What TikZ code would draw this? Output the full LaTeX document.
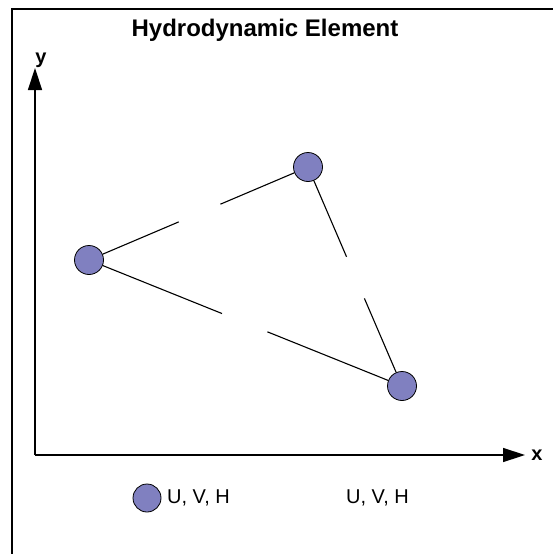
\documentclass[tikz,border=0pt]{standalone}
\usepackage{fontspec}
\setmainfont{Liberation Sans}
\definecolor{elemblue}{RGB}{128,128,192}
\usetikzlibrary{arrows.meta,calc}

\begin{document}
\begin{tikzpicture}[x=1pt,y=-1pt,
    elem/.style={draw,fill=elemblue,circle,minimum size=29pt,inner sep=0pt,line width=0.8pt},
    axis/.style={line width=1.4pt,-{Triangle[length=22pt,width=14pt]}}]
  \useasboundingbox (0,0) rectangle (552,554);
  \draw[line width=1.4pt] (12,570) -- (12,9) -- (570,9);
  \node[font=\fontsize{24}{28}\selectfont\bfseries] (title) at (265,30) {Hydrodynamic Element};
  % axes
  \coordinate (o) at (35,455);
  \coordinate (ytip) at (35,68);
  \coordinate (xtip) at (525,455);
  \draw[axis] (o) -- (ytip);
  \draw[axis] (o) -- (xtip);
  \node[font=\fontsize{20}{22}\selectfont\bfseries] (ylab) at (41,60) {y};
  \node[font=\fontsize{20}{22}\selectfont\bfseries] (xlab) at (537,455) {x};
  % element nodes
  \node[elem] (n1) at (89,260) {};
  \node[elem] (n2) at (308,167) {};
  \node[elem] (n3) at (402,386) {};
  \draw[line width=1.1pt] (n1) -- ($(n1)!0.41!(n2)$);
  \draw[line width=1.1pt] ($(n1)!0.60!(n2)$) -- (n2);
  \draw[line width=1.1pt] (n2) -- ($(n2)!0.41!(n3)$);
  \draw[line width=1.1pt] ($(n2)!0.60!(n3)$) -- (n3);
  \draw[line width=1.1pt] (n1) -- ($(n1)!0.425!(n3)$);
  \draw[line width=1.1pt] ($(n1)!0.57!(n3)$) -- (n3);
  % legend
  \node[elem,minimum size=28pt] (leg) at (147,498) {};
  \node[anchor=west,font=\fontsize{20}{22}\selectfont,inner sep=0pt] (leg1) at (167,498) {U, V, H};
  \node[anchor=west,font=\fontsize{20}{22}\selectfont,inner sep=0pt] (leg2) at (346,498) {U, V, H};
\end{tikzpicture}
\end{document}
